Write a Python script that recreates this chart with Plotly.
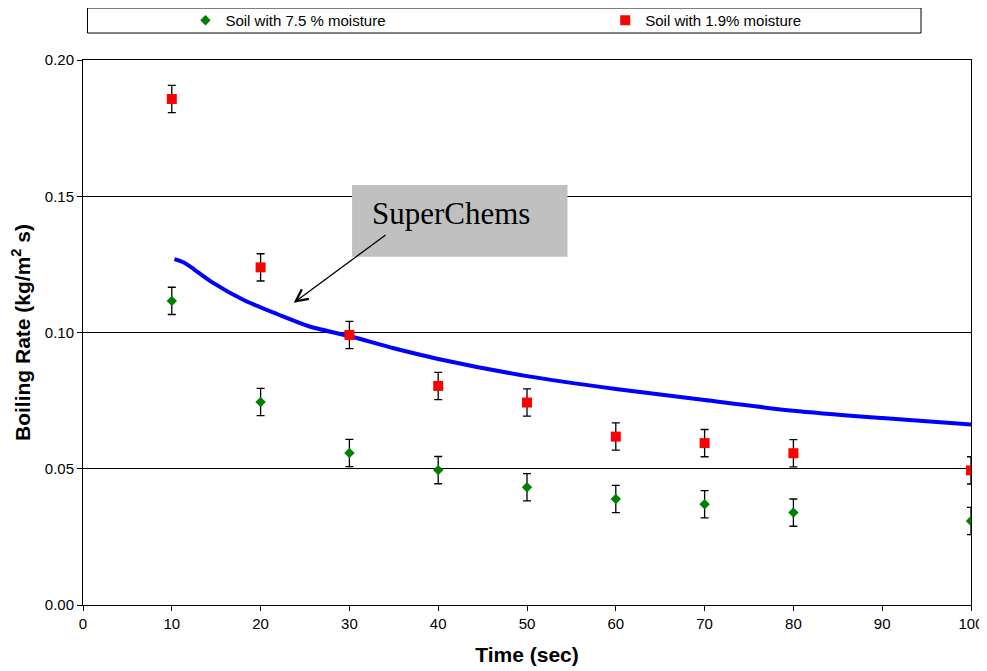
import plotly.graph_objects as go

# ---- data ----
time_points = [10, 20, 30, 40, 50, 60, 70, 80, 100]
soil_75 = [0.1116, 0.0745, 0.0558, 0.0495, 0.0432, 0.0389, 0.0370, 0.0339, 0.0308]
soil_75_err = [0.005, 0.005, 0.005, 0.005, 0.005, 0.005, 0.005, 0.005, 0.005]
soil_19 = [0.1857, 0.1239, 0.0991, 0.0804, 0.0743, 0.0618, 0.0594, 0.0557, 0.0494]
soil_19_err = [0.005, 0.005, 0.005, 0.005, 0.005, 0.005, 0.005, 0.005, 0.005]

model_time = [10.3, 11.4, 12.5, 14.7, 18.1, 21.9, 25.6, 30, 35, 40, 50, 60, 70, 80, 90, 100]
model_rate = [0.1269, 0.1256, 0.1232, 0.1181, 0.1119, 0.1067, 0.1021, 0.0987, 0.0942,
              0.0903, 0.0840, 0.0793, 0.0752, 0.0713, 0.0686, 0.0662]

x_ticks = [0, 10, 20, 30, 40, 50, 60, 70, 80, 90, 100]
y_ticks = [0.00, 0.05, 0.10, 0.15, 0.20]

FONT = "Liberation Sans, Arial, sans-serif"

fig = go.Figure()

fig.add_trace(go.Scatter(
    x=model_time, y=model_rate, mode="lines",
    line=dict(color="#0000FF", width=4, shape="spline", smoothing=0.8),
    showlegend=False, hoverinfo="skip",
))

fig.add_trace(go.Scatter(
    x=time_points, y=soil_75, mode="markers", name="Soil with 7.5 % moisture",
    marker=dict(symbol="diamond", color="#008000", size=8),
    error_y=dict(type="data", array=soil_75_err, visible=True,
                 color="black", thickness=1.3, width=4),
    legend="legend",
))

fig.add_trace(go.Scatter(
    x=time_points, y=soil_19, mode="markers", name="Soil with 1.9% moisture",
    marker=dict(symbol="square", color="#FF0000", size=10),
    error_y=dict(type="data", array=soil_19_err, visible=True,
                 color="black", thickness=1.3, width=4),
    legend="legend2",
))

# legend frame
fig.add_shape(type="rect", xref="paper", yref="paper",
              x0=0.00506, x1=0.9437, y0=1.0495, y1=1.0954,
              line=dict(color="black", width=1), fillcolor="white", layer="below")

# SuperChems label box
fig.add_shape(type="rect", xref="x", yref="y",
              x0=30.3, x1=54.56, y0=0.1278, y1=0.1541,
              line=dict(width=0), fillcolor="#C0C0C0", layer="above")

fig.add_annotation(x=32.47, y=0.14367, xref="x", yref="y",
                   text="SuperChems", showarrow=False,
                   xanchor="left", yanchor="middle", borderpad=0,
                   font=dict(family="Liberation Serif, Times New Roman, serif",
                             size=31, color="black"))

fig.add_annotation(x=23.73, y=0.11094, ax=34.24, ay=0.13615,
                   xref="x", yref="y", axref="x", ayref="y",
                   text="", showarrow=True, arrowhead=5, arrowsize=1.8,
                   arrowwidth=1.3, arrowcolor="black")

legend_common = dict(orientation="h", yref="paper", y=1.0725, yanchor="middle",
                     xanchor="left", bgcolor="rgba(0,0,0,0)", borderwidth=0,
                     font=dict(family=FONT, size=15, color="black"))

# the page body adds an 8px offset, so the figure is drawn 8px smaller
fig.update_layout(
    width=979, height=663,
    margin=dict(l=74.5, r=16, t=52, b=66, autoexpand=False),
    paper_bgcolor="white", plot_bgcolor="white",
    font=dict(family=FONT, size=15, color="black"),
    legend=dict(x=(185 - 82.5) / 888.5, **legend_common),
    legend2=dict(x=(605 - 82.5) / 888.5, **legend_common),
    xaxis=dict(
        range=[0, 100], tickvals=x_ticks, ticks="outside", ticklen=5,
        tickcolor="black", showline=True, linecolor="black", linewidth=1,
        mirror=True, showgrid=False, zeroline=False, automargin=False,
        tickfont=dict(family=FONT, size=15, color="black"),
        title=dict(text="<b>Time (sec)</b>", standoff=16,
                   font=dict(family=FONT, size=21, color="black")),
    ),
    yaxis=dict(
        range=[0, 0.2], tickvals=y_ticks, tickformat=".2f", ticks="outside",
        ticklen=5, tickcolor="black", showline=True, linecolor="black",
        linewidth=1, mirror=True, showgrid=True, gridcolor="black", gridwidth=1,
        zeroline=False, automargin=False,
        tickfont=dict(family=FONT, size=15, color="black"),
        title=dict(text="<b>Boiling Rate (kg/m<sup>2</sup> s)</b>", standoff=8,
                   font=dict(family=FONT, size=21, color="black")),
    ),
)

fig.write_html("out.html")
